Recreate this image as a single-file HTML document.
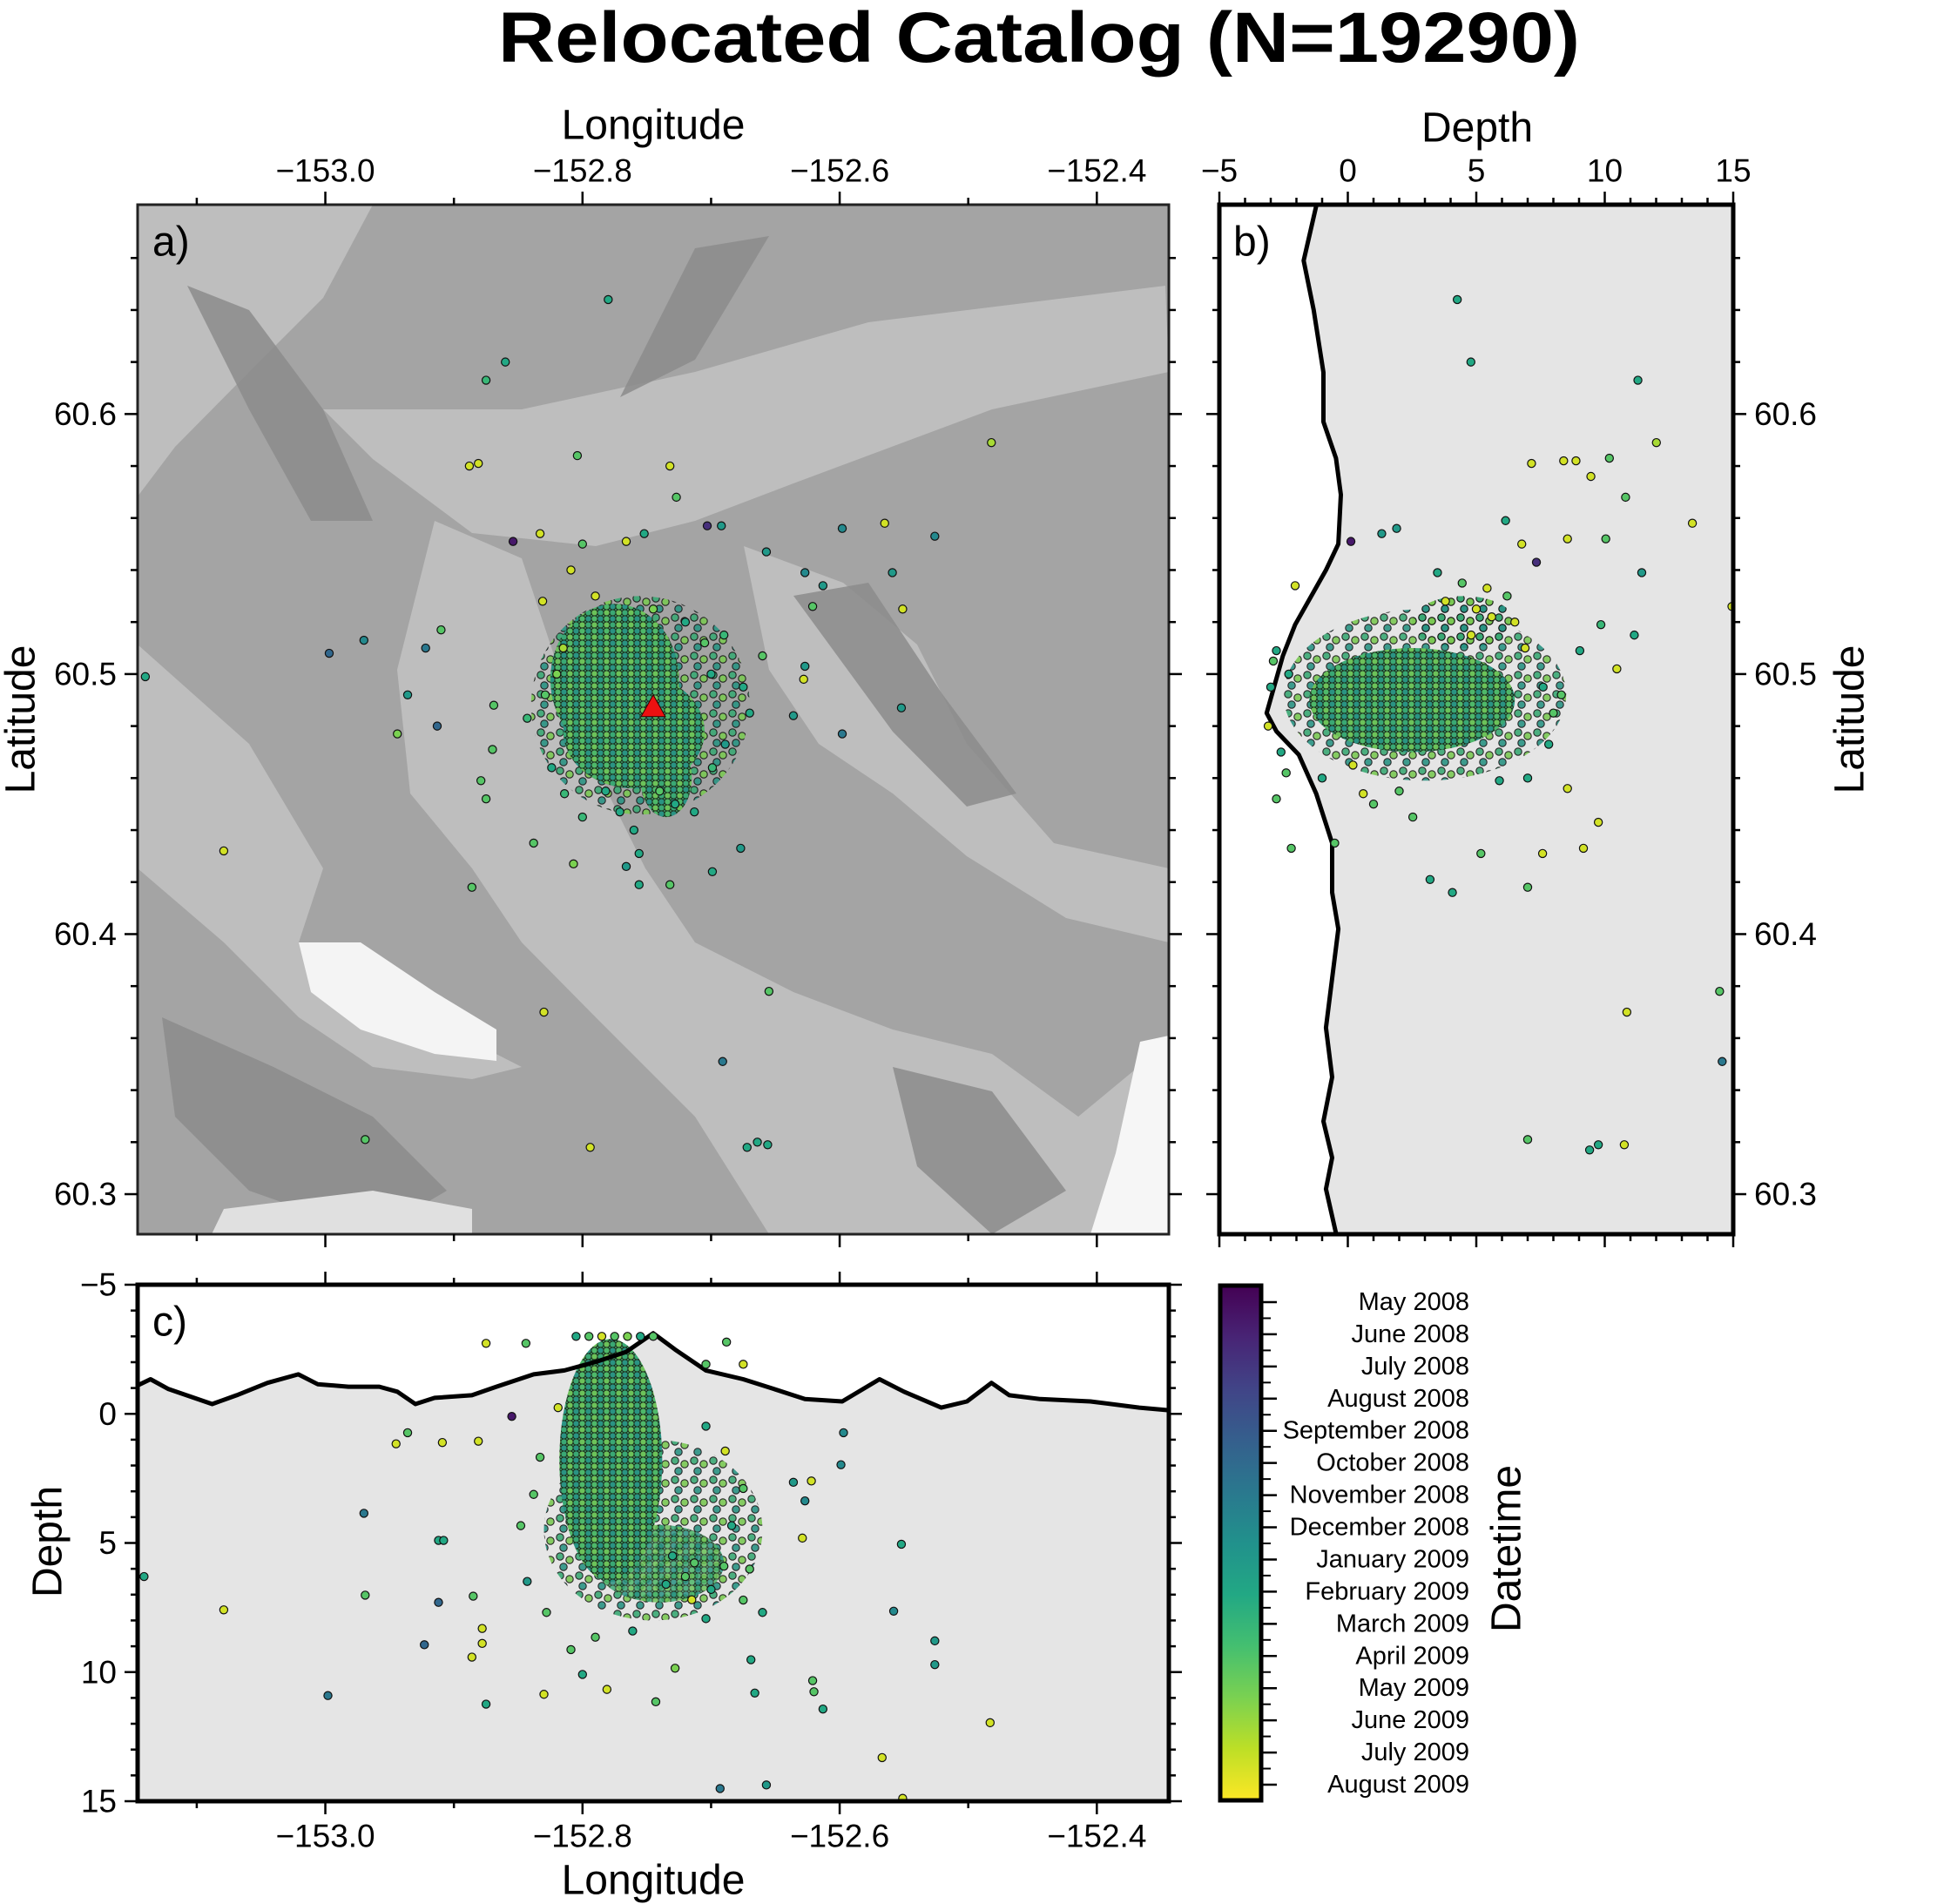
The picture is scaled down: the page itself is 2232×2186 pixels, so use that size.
<!DOCTYPE html>
<html><head><meta charset="utf-8"><style>
html,body{margin:0;padding:0;background:#fff;}
svg{display:block;font-family:"Liberation Sans",sans-serif;}
</style></head><body>
<svg id="fig" width="2232" height="2186" viewBox="0 0 2232 2186" xmlns="http://www.w3.org/2000/svg">
<defs>
<pattern id="clusterPat" x="0" y="0" width="14" height="14" patternUnits="userSpaceOnUse">
<rect width="14" height="14" fill="#3f9a66"/>
<circle cx="3.5" cy="3.5" r="3.6" fill="#3aa874" stroke="#1a2a1a" stroke-width="1"/>
<circle cx="10.5" cy="3.5" r="3.6" fill="#6cc25a" stroke="#1a2a1a" stroke-width="1"/>
<circle cx="3.5" cy="10.5" r="3.6" fill="#2a9383" stroke="#1a2a1a" stroke-width="1"/>
<circle cx="10.5" cy="10.5" r="3.6" fill="#4eb86a" stroke="#1a2a1a" stroke-width="1"/>
</pattern>
<pattern id="sparsePat" x="0" y="0" width="22" height="22" patternUnits="userSpaceOnUse">
<circle cx="5" cy="5" r="4.2" fill="#3aa874" stroke="#111" stroke-width="1.1"/>
<circle cx="16" cy="9" r="4.2" fill="#7ac853" stroke="#111" stroke-width="1.1"/>
<circle cx="9" cy="17" r="4.2" fill="#2a9383" stroke="#111" stroke-width="1.1"/>
</pattern>
<linearGradient id="viridisGrad" x1="0" y1="0" x2="0" y2="1">
<stop offset="0" stop-color="#440154"/><stop offset="0.1" stop-color="#482475"/><stop offset="0.2" stop-color="#414487"/>
<stop offset="0.3" stop-color="#355f8d"/><stop offset="0.4" stop-color="#2a788e"/><stop offset="0.5" stop-color="#21918c"/>
<stop offset="0.6" stop-color="#22a884"/><stop offset="0.7" stop-color="#44bf70"/><stop offset="0.8" stop-color="#7ad151"/>
<stop offset="0.9" stop-color="#bddf26"/><stop offset="1" stop-color="#fde725"/>
</linearGradient>
<clipPath id="clipA"><rect x="158" y="235" width="1184" height="1182"/></clipPath>
<clipPath id="clipB"><rect x="1400" y="235" width="590" height="1182"/></clipPath>
<clipPath id="clipC"><rect x="158" y="1475" width="1184" height="593"/></clipPath>
</defs>
<text x="1193" y="71" text-anchor="middle" font-size="82" font-weight="bold" textLength="1242" lengthAdjust="spacingAndGlyphs">Relocated Catalog (N=19290)</text>
<g id="panelA"></g>
<g id="panelB"></g>
<g id="panelC"></g>
<g id="cbar"></g>
</svg>
<script>
// ---------- data ----------
const lonTicks = [-153.0, -152.8, -152.6, -152.4];
const latTicks = [60.3, 60.4, 60.5, 60.6];
const depthTicks = [-5, 0, 5, 10, 15];
const monthLabels = ["May 2008","June 2008","July 2008","August 2008","September 2008","October 2008","November 2008","December 2008","January 2009","February 2009","March 2009","April 2009","May 2009","June 2009","July 2009","August 2009"];
// map events: lon, lat, month index
const mapLon = [-152.780,-152.860,-152.875,-152.881,-152.888,-152.804,-152.732,-152.727,-152.703,-152.692,-152.854,-152.833,-152.657,-152.598,-152.565,-152.526,-152.482,-152.627,-152.613,-152.621,-152.551,-152.559,-152.997,-152.970,-152.922,-152.910,-152.936,-152.944,-152.913,-152.869,-152.870,-152.879,-152.875,-153.140,-153.079,-152.886,-152.830,-152.655,-152.691,-152.969,-152.794,-152.672,-152.664,-152.656,-152.598,-152.552,-152.636,-152.628,-152.627,-152.831,-152.809,-152.800,-152.752,-152.766,-152.728,-152.756,-152.766,-152.756,-152.732,-152.699,-152.677,-152.838,-152.807,-152.675,-152.660,-152.670,-152.689,-152.699,-152.713,-152.800,-152.771,-152.829,-152.843,-152.824,-152.814,-152.790,-152.745,-152.720,-152.705,-152.815,-152.782,-152.740,-152.700,-152.690,-152.760,-152.820];
const mapLat = [60.644,60.620,60.613,60.581,60.580,60.584,60.580,60.568,60.557,60.557,60.551,60.554,60.547,60.556,60.558,60.553,60.589,60.539,60.534,60.526,60.525,60.539,60.508,60.513,60.510,60.517,60.492,60.477,60.480,60.488,60.471,60.459,60.452,60.499,60.432,60.418,60.370,60.378,60.351,60.321,60.318,60.318,60.320,60.319,60.477,60.487,60.484,60.498,60.503,60.528,60.540,60.550,60.554,60.551,60.450,60.431,60.426,60.419,60.419,60.424,60.433,60.435,60.427,60.495,60.507,60.485,60.473,60.464,60.447,60.445,60.447,60.492,60.483,60.464,60.454,60.530,60.525,60.520,60.512,60.510,60.455,60.455,60.500,60.515,60.440,60.500];
const mapT = [9,9,10,14,14,11,14,11,2,8,1,14,8,7,14,7,13,7,8,11,14,8,5,7,6,11,8,12,5,11,11,11,11,9,14,11,14,11,6,11,14,9,9,9,6,8,8,14,8,14,14,11,9,14,9,9,8,9,11,9,8,11,12,9,11,9,8,10,9,10,9,11,10,9,10,14,12,9,11,13,9,11,9,10,9,12];
// depth-latitude events: depth (km), lat, month index
const secBDepth = [4.26,4.79,11.29,7.15,8.40,8.88,9.46,10.18,12.01,10.81,13.41,14.95,10.47,9.85,11.15,11.44,10.04,9.75,9.17,7.58,7.00,4.07,3.20,14.47,10.86,14.57,7.00,9.41,9.75,10.76,0.12,1.90,1.32,-2.05,6.14,6.77,7.34,8.55,-2.78,-2.20,-0.51,0.60,2.53,5.18,5.90,8.55,7.82,9.03,-2.78,8.31,4.45,5.42,3.49,-3.0,-2.9,-3.1,-2.6,-2.4,-2.3,7.0,6.5,6.9,5.0,4.8,6.2,5.6,3.8,1.0,0.2,-1.0,2.0,7.6,8.0];
const secBLat = [60.644,60.620,60.613,60.581,60.582,60.582,60.576,60.583,60.589,60.568,60.558,60.526,60.502,60.519,60.515,60.539,60.552,60.443,60.433,60.431,60.418,60.416,60.421,60.378,60.370,60.351,60.321,60.317,60.319,60.319,60.551,60.556,60.554,60.534,60.559,60.550,60.543,60.552,60.452,60.433,60.435,60.454,60.445,60.431,60.459,60.456,60.473,60.509,60.509,60.492,60.535,60.533,60.539,60.495,60.505,60.480,60.470,60.462,60.500,60.460,60.520,60.510,60.525,60.515,60.530,60.522,60.528,60.450,60.465,60.460,60.455,60.495,60.485];
const secBT = [9,9,9,14,14,14,14,11,13,11,14,14,14,10,9,8,11,14,14,14,11,9,9,11,14,6,11,9,9,14,1,8,8,14,9,14,2,14,11,11,11,14,11,11,9,14,9,9,9,11,11,14,9,9,11,14,9,11,9,9,14,14,14,14,11,14,14,11,14,9,11,9,11];
// longitude-depth events: lon, depth (km), month index
const secCLon = [-152.875,-152.844,-152.855,-152.936,-152.945,-152.909,-152.881,-152.970,-152.912,-152.908,-153.141,-152.969,-153.079,-152.912,-152.885,-152.878,-152.878,-152.886,-152.923,-152.875,-152.998,-152.830,-152.597,-152.599,-152.636,-152.622,-152.627,-152.629,-152.552,-152.558,-152.526,-152.526,-152.483,-152.567,-152.693,-152.657,-152.551,-152.621,-152.620,-152.613,-152.669,-152.666,-152.688,-152.675,-152.704,-152.819,-152.833,-152.838,-152.848,-152.843,-152.828,-152.809,-152.800,-152.781,-152.743,-152.728,-152.704,-152.675,-152.660,-152.670,-152.684,-152.675,-152.689,-152.704,-152.713,-152.761,-152.790,-152.805,-152.795,-152.785,-152.775,-152.765,-152.755,-152.745,-152.730,-152.720,-152.700,-152.690,-152.715,-152.735];
const secCDepth = [-2.73,-2.73,0.10,0.73,1.16,1.11,1.06,3.85,4.90,4.90,6.30,7.02,7.59,7.30,7.06,8.31,8.89,9.42,8.94,11.24,10.91,10.86,0.73,1.97,2.65,2.60,3.37,4.81,5.05,7.64,8.79,9.71,11.96,13.31,14.51,14.37,14.89,10.33,10.76,11.43,9.52,10.81,-2.78,-1.92,-1.92,-0.24,1.68,3.12,4.33,6.49,7.69,9.13,10.09,10.67,11.15,9.85,7.93,7.21,7.69,6.01,4.33,2.89,1.44,0.48,5.77,8.41,8.65,-3.0,-3.0,-3.0,-3.0,-3.0,-3.0,-3.0,5.5,6.3,6.8,5.9,7.2,6.6];
const secCT = [14,11,1,11,14,14,14,6,9,9,9,11,14,5,11,14,14,14,5,9,6,14,7,7,8,14,7,14,9,7,8,8,14,14,6,8,14,11,11,9,9,9,11,14,11,14,11,11,11,8,11,11,9,14,11,12,9,11,9,11,9,11,14,9,11,9,11,9,11,14,11,12,9,11,9,11,9,11,14,9];
// topography profiles
const topoBDepth = [-1.23,-1.72,-1.33,-0.95,-0.95,-0.46,-0.27,-0.37,-0.85,-2.05,-2.53,-3.16,-2.78,-1.91,-1.23,-0.61,-0.61,-0.37,-0.61,-0.85,-0.61,-0.95,-0.61,-0.85,-0.46];
const topoBLat = [60.680,60.659,60.640,60.616,60.597,60.583,60.569,60.550,60.540,60.519,60.507,60.485,60.478,60.469,60.454,60.435,60.416,60.402,60.383,60.364,60.345,60.328,60.314,60.302,60.285];
const topoCLon = [-153.146,-153.136,-153.122,-153.088,-153.069,-153.045,-153.021,-153.006,-152.982,-152.958,-152.944,-152.930,-152.915,-152.886,-152.867,-152.838,-152.814,-152.790,-152.766,-152.745,-152.728,-152.704,-152.675,-152.651,-152.627,-152.598,-152.569,-152.550,-152.521,-152.501,-152.482,-152.468,-152.444,-152.405,-152.367,-152.344];
const topoCDepth = [-1.10,-1.34,-0.96,-0.38,-0.72,-1.20,-1.53,-1.15,-1.05,-1.05,-0.86,-0.38,-0.62,-0.72,-1.05,-1.53,-1.68,-2.01,-2.40,-3.12,-2.49,-1.68,-1.34,-0.96,-0.57,-0.48,-1.34,-0.86,-0.24,-0.48,-1.20,-0.72,-0.57,-0.48,-0.24,-0.14];
const station = [-152.745, 60.487];

// ---------- scales ----------
const LON0=-153.146, LON1=-152.344, LAT0=60.2846, LAT1=60.6805;
const AX={l:158,r:1342,t:235,b:1417}, BX={l:1400,r:1990}, CY={t:1475,b:2068};
const xLon=v=>AX.l+(v-LON0)/(LON1-LON0)*(AX.r-AX.l);
const yLat=v=>AX.b-(v-LAT0)/(LAT1-LAT0)*(AX.b-AX.t);
const xDep=v=>BX.l+(v+5)/20*(BX.r-BX.l);
const yDep=v=>CY.t+(v+5)/20*(CY.b-CY.t);
const VIR=["#440154","#482475","#414487","#355f8d","#2a788e","#21918c","#22a884","#44bf70","#7ad151","#bddf26","#fde725"];
function vir(t){const f=Math.max(0,Math.min(1,t/15))*10;const i=Math.min(9,Math.floor(f));const a=f-i;
 const h=s=>[1,3,5].map(k=>parseInt(s.substr(k,2),16));const c0=h(VIR[i]),c1=h(VIR[i+1]);
 return "rgb("+c0.map((c,k)=>Math.round(c+(c1[k]-c)*a)).join(",")+")";}
const NS="http://www.w3.org/2000/svg";
function mk(tag,attrs,parent){const e=document.createElementNS(NS,tag);for(const k in attrs)e.setAttribute(k,attrs[k]);parent.appendChild(e);return e;}
function txt(s,x,y,size,anchor,parent,rot){const e=mk("text",{x:x,y:y,"font-size":size,"text-anchor":anchor,"dominant-baseline":"central"},parent);if(rot)e.setAttribute("transform","rotate("+rot+" "+x+" "+y+")");e.textContent=s;return e;}
const fmtD=v=>(v<0?"\u2212":"")+Math.abs(v);
const fmtLon=v=>"\u2212"+Math.abs(v).toFixed(1);
// density blob helper (decoration): ellipse in data space
function blob(parent,cx,cy,rx,ry,fill,op,name){const e=mk("ellipse",{cx:cx,cy:cy,rx:Math.abs(rx),ry:Math.abs(ry),fill:fill,opacity:op},parent);
 
 return e;}

// ---------- panel A ----------
const A=document.getElementById("panelA");
const bgA=mk("g",{"clip-path":"url(#clipA)"},A);


mk("rect",{x:158,y:235,width:1184,height:1182,fill:"#a4a4a4"},bgA);
const P=(pts)=>pts.map(p=>(p[0]*1.4214+1.6).toFixed(0)+","+(p[1]*1.424).toFixed(0)).join(" ");
const light=[
 [[260,330],[420,330],[560,300],[700,260],[940,230],[943,300],[800,330],[640,390],[560,420],[480,440],[380,430],[300,370]],
 [[350,420],[420,450],[470,600],[520,700],[560,760],[640,800],[720,830],[800,850],[870,900],[943,840],[943,995],[620,995],[560,900],[480,820],[420,760],[380,700],[330,640],[320,540]],
 [[110,520],[200,600],[260,700],[240,760],[300,820],[380,840],[420,860],[380,870],[300,860],[240,820],[180,760],[110,700]],
 [[600,440],[680,470],[740,520],[780,600],[850,680],[943,700],[943,760],[860,740],[780,690],[720,640],[660,600],[620,540]],
 [[110,165],[300,165],[260,240],[200,300],[140,360],[110,400]]
];
light.forEach(p=>mk("polygon",{points:P(p),fill:"#c4c4c4",opacity:"0.8"},bgA));
const dark=[
 [[150,230],[200,250],[260,330],[300,420],[250,420],[200,330]],
 [[560,200],[620,190],[560,290],[500,320]],
 [[640,480],[700,470],[760,560],[820,640],[780,650],[720,590]],
 [[130,820],[220,860],[300,900],[360,960],[300,995],[200,960],[140,900]],
 [[720,860],[800,880],[860,960],[800,995],[740,940]]
];
dark.forEach(p=>mk("polygon",{points:P(p),fill:"#8c8c8c",opacity:"0.85"},bgA));
mk("polygon",{points:P([[240,760],[290,760],[350,800],[400,830],[400,855],[350,850],[290,830],[250,800]]),fill:"#f4f4f4"},bgA);
mk("polygon",{points:P([[920,840],[943,835],[943,995],[880,995],[900,930]]),fill:"#f6f6f6"},bgA);
mk("polygon",{points:P([[180,975],[300,960],[380,975],[380,995],[170,995]]),fill:"#e0e0e0"},bgA);
const ptsA=mk("g",{"clip-path":"url(#clipA)"},A);
blob(ptsA,xLon(-152.755),yLat(60.488),xLon(-152.670)-xLon(-152.755),yLat(60.488)-yLat(60.530),"url(#sparsePat)",0.9,'event-cluster-halo');
blob(ptsA,xLon(-152.775),yLat(60.498),xLon(-152.725)-xLon(-152.775),yLat(60.498)-yLat(60.527),"url(#clusterPat)",1,'event-cluster-density');
blob(ptsA,xLon(-152.760),yLat(60.478),xLon(-152.705)-xLon(-152.760),yLat(60.478)-yLat(60.500),"url(#clusterPat)",1,'event-cluster-density');
blob(ptsA,xLon(-152.735),yLat(60.460),xLon(-152.715)-xLon(-152.735),yLat(60.460)-yLat(60.475),"url(#clusterPat)",1,'event-cluster-density');
mapLon.forEach((v,i)=>{const c=mk("circle",{cx:xLon(v),cy:yLat(mapLat[i]),r:4.6,fill:vir(mapT[i]),stroke:"#111","stroke-width":1.2},ptsA);
 
 });
const tri=mk("polygon",{points:(xLon(station[0]))+","+(yLat(station[1])-15)+" "+(xLon(station[0])-14)+","+(yLat(station[1])+10)+" "+(xLon(station[0])+14)+","+(yLat(station[1])+10),fill:"#ee1111",stroke:"#330000","stroke-width":1},A);


const frA=mk("rect",{x:158,y:235,width:1184,height:1182,fill:"none",stroke:"#222","stroke-width":3},A);



// ---------- panel B ----------
const B=document.getElementById("panelB");
mk("rect",{x:1400,y:235,width:590,height:1182,fill:"#e5e5e5"},B);
const gB=mk("g",{"clip-path":"url(#clipB)"},B);
let dB="M1400,"+yLat(LAT1)+" "+topoBDepth.map((d,i)=>"L"+xDep(d).toFixed(1)+","+yLat(topoBLat[i]).toFixed(1)).join(" ")+" L1400,"+yLat(LAT0)+"Z";
mk("path",{d:dB,fill:"#fff"},gB);
const lineB=mk("polyline",{points:topoBDepth.map((d,i)=>xDep(d).toFixed(1)+","+yLat(topoBLat[i]).toFixed(1)).join(" "),fill:"none",stroke:"#000","stroke-width":5,"stroke-linejoin":"round"},gB);


blob(gB,xDep(3.0),yLat(60.492),xDep(8.5)-xDep(3.0),yLat(60.492)-yLat(60.525),"url(#sparsePat)",0.9,'event-cluster-halo');
blob(gB,xDep(2.5),yLat(60.490),xDep(6.5)-xDep(2.5),yLat(60.490)-yLat(60.510),"url(#clusterPat)",1,'event-cluster-density');
blob(gB,xDep(4.5),yLat(60.520),xDep(6.5)-xDep(4.5),yLat(60.520)-yLat(60.530),"url(#sparsePat)",1,'event-cluster-upper');
secBDepth.forEach((v,i)=>{const c=mk("circle",{cx:xDep(v),cy:yLat(secBLat[i]),r:4.6,fill:vir(secBT[i]),stroke:"#111","stroke-width":1.2},gB);
 
 });
const frB=mk("rect",{x:1400,y:235,width:590,height:1182,fill:"none",stroke:"#000","stroke-width":5},B);



// ---------- panel C ----------
const C=document.getElementById("panelC");
mk("rect",{x:158,y:1475,width:1184,height:593,fill:"#e5e5e5"},C);
const gC=mk("g",{"clip-path":"url(#clipC)"},C);
let dC="M"+xLon(LON0)+",1475 "+topoCLon.map((l,i)=>"L"+xLon(l).toFixed(1)+","+yDep(topoCDepth[i]).toFixed(1)).join(" ")+" L"+xLon(LON1)+",1475Z";
mk("path",{d:dC,fill:"#fff"},gC);
blob(gC,xLon(-152.745),yDep(4.5),xLon(-152.66)-xLon(-152.745),yDep(4.5)-yDep(1.0),"url(#sparsePat)",0.9,'event-cluster-halo');
blob(gC,xLon(-152.778),yDep(1.8),xLon(-152.738)-xLon(-152.778),yDep(1.8)-yDep(-2.9),"url(#clusterPat)",1,'event-cluster-density');
blob(gC,xLon(-152.740),yDep(5.8),xLon(-152.690)-xLon(-152.740),yDep(5.8)-yDep(4.3),"url(#clusterPat)",0.85,'event-cluster-density-deep');
const lineC=mk("polyline",{points:topoCLon.map((l,i)=>xLon(l).toFixed(1)+","+yDep(topoCDepth[i]).toFixed(1)).join(" "),fill:"none",stroke:"#000","stroke-width":5,"stroke-linejoin":"round"},gC);


secCLon.forEach((v,i)=>{const c=mk("circle",{cx:xLon(v),cy:yDep(secCDepth[i]),r:4.6,fill:vir(secCT[i]),stroke:"#111","stroke-width":1.2},gC);
 
 });
const frC=mk("rect",{x:158,y:1475,width:1184,height:593,fill:"none",stroke:"#000","stroke-width":5},C);



// ---------- axes ----------
const ax=document.getElementById("fig");
const axG=mk("g",{stroke:"#000","stroke-width":2.5},ax);


function tick(x1,y1,x2,y2){mk("line",{x1:x1,y1:y1,x2:x2,y2:y2},axG);}
for(let v=-153.1;v<=-152.35;v+=0.1){const x=xLon(v);const major=Math.abs((v*10)%2)<0.05||Math.abs(Math.abs((v*10)%2)-2)<0.05;const L=major?15:8;
 tick(x,AX.t,x,AX.t-L);tick(x,AX.b,x,AX.b+L);tick(x,CY.t,x,CY.t-L);tick(x,CY.b,x,CY.b+L);}
for(let v=60.30;v<=60.68;v+=0.02){const y=yLat(v);const major=Math.abs(Math.round(v*10)-v*10)<0.01;const L=major?15:8;
 tick(AX.l,y,AX.l-L,y);tick(AX.r,y,AX.r+L,y);tick(BX.l,y,BX.l-L,y);tick(BX.r,y,BX.r+L,y);}
for(let v=-5;v<=15;v+=1){const L=(v%5===0)?15:8;const x=xDep(v),y=yDep(v);
 tick(x,AX.t,x,AX.t-L);tick(x,AX.b,x,AX.b+L);tick(AX.l,y,AX.l-L,y);tick(AX.r,y,AX.r+L,y);}
const labG=mk("g",{fill:"#000"},ax);


lonTicks.forEach(v=>{txt(fmtLon(v),xLon(v),196,37,"middle",labG);txt(fmtLon(v),xLon(v),2108,37,"middle",labG);});
latTicks.forEach(v=>{txt(v.toFixed(1),134,yLat(v),37,"end",labG);txt(v.toFixed(1),2014,yLat(v),37,"start",labG);});
depthTicks.forEach(v=>{txt(fmtD(v),xDep(v),196,37,"middle",labG);txt(fmtD(v),134,yDep(v),37,"end",labG);});
const titles=[["Longitude",750,144,0,"top-x-axis-title"],["Depth",1696,147,0,"depth-x-axis-title"],["Latitude",24,826,-90,"left-y-axis-title"],["Latitude",2124,826,-90,"right-y-axis-title"],["Depth",55,1770,-90,"depth-y-axis-title"],["Longitude",750,2159,0,"bottom-x-axis-title"]];
titles.forEach(t=>{const e=txt(t[0],t[1],t[2],48,"middle",ax,t[3]);
 
 });
[["a)",175,278],["b)",1416,278],["c)",175,1518]].forEach(p=>{const e=txt(p[0],p[1],p[2],48,"start",ax);
 
 });

// ---------- colorbar ----------
const CB=document.getElementById("cbar");
const cbr=mk("rect",{x:1401,y:1476,width:47,height:591,fill:"url(#viridisGrad)",stroke:"#000","stroke-width":5},CB);


const cbTop=1495, cbStep=(2049-1495)/(monthLabels.length-1);
monthLabels.forEach((m,i)=>{const y=cbTop+i*cbStep;
 mk("line",{x1:1449,y1:y,x2:1466,y2:y,stroke:"#000","stroke-width":2.5},CB);
 if(i<monthLabels.length-1) mk("line",{x1:1449,y1:y+cbStep/2,x2:1459,y2:y+cbStep/2,stroke:"#000","stroke-width":2},CB);
 const e=txt(m,1687,y,29,"end",CB);
 
 });
const dt=txt("Datetime",1730,1778,48,"middle",CB,-90);


</script>
</body></html>
